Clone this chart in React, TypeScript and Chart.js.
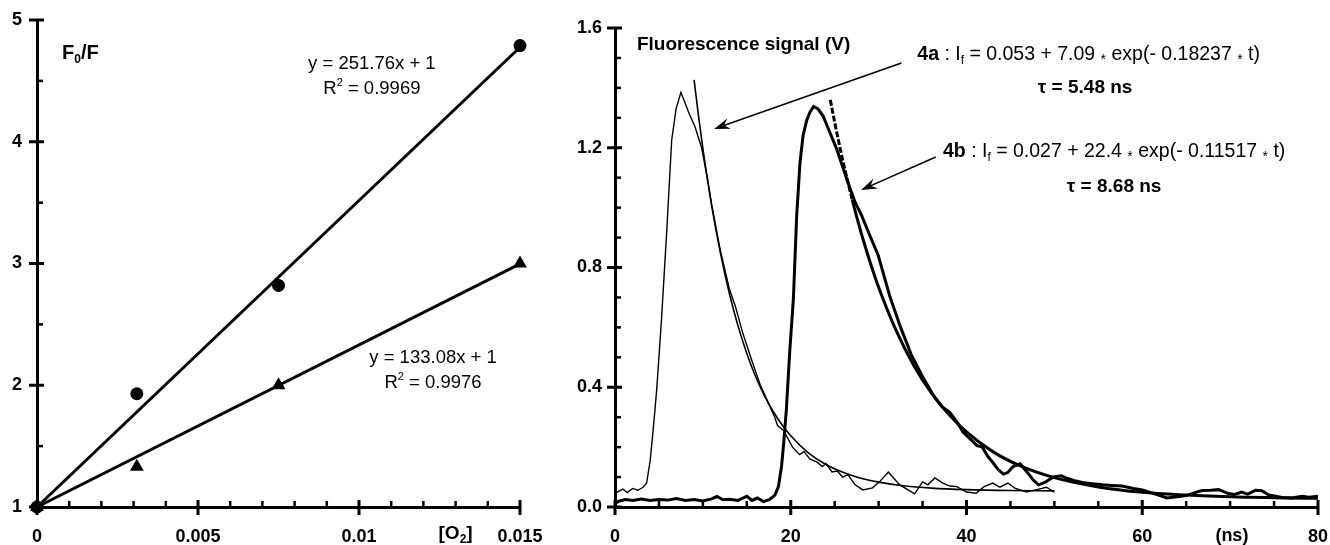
import React, { useEffect, useRef } from 'react';
import { Chart, registerables } from 'chart.js';

Chart.register(...registerables);

const FONT = 'Arial, "Liberation Sans", Helvetica, sans-serif';

// ---------- Left panel: Stern-Volmer plot ----------
const o2Conc = [0, 0.0031, 0.0075, 0.015];
const circleF0F = [1, 1.93, 2.82, 4.79];
const triangleF0F = [1, 1.33, 2.0, 3.0];
const fitX = [0, 0.015];
const fitCircleY = [1, 4.7764];
const fitTriangleY = [1, 2.9962];

const leftXTicks = [0, 0.005, 0.01, 0.015];
const leftXTickLabels = ['0', '0.005', '0.01', '0.015'];
const leftXMinor = [0.001, 0.002, 0.003, 0.004, 0.006, 0.007, 0.008, 0.009, 0.011, 0.012, 0.013, 0.014];
const leftYTicks = [1, 2, 3, 4, 5];
const leftYTickLabels = ['1', '2', '3', '4', '5'];
const leftYMinor = [1.5, 2.5, 3.5, 4.5];

// ---------- Right panel: fluorescence decays ----------
const signal4a: [number, number][] = [
  [0, 0.045], [0.4, 0.052], [0.9, 0.06], [1.4, 0.048], [2.0, 0.062], [2.6, 0.056], [3.2, 0.066],
  [3.6, 0.08], [4.0, 0.154], [4.35, 0.26], [4.75, 0.393], [5.3, 0.63], [5.9, 0.928], [6.45, 1.225],
  [6.95, 1.33], [7.5, 1.385], [7.9, 1.355], [8.35, 1.32], [9.1, 1.27], [9.86, 1.2], [10.5, 1.1],
  [11, 1.01], [12, 0.855], [13, 0.73], [13.7, 0.67], [14.5, 0.585], [15.5, 0.495], [16.5, 0.41],
  [17.5, 0.345], [18.2, 0.298], [18.5, 0.272], [19.2, 0.255], [20.2, 0.2], [21, 0.175], [21.5, 0.185],
  [22.2, 0.16], [23, 0.15], [23.6, 0.135], [24, 0.145], [24.7, 0.117], [25.3, 0.12], [25.9, 0.1],
  [26.5, 0.108], [27.3, 0.075], [28.2, 0.057], [29.3, 0.064], [30.1, 0.084], [31.1, 0.117],
  [32.4, 0.074], [33.3, 0.058], [34.1, 0.044], [35, 0.084], [35.6, 0.074], [36.4, 0.097],
  [37.3, 0.08], [38.1, 0.07], [38.9, 0.068], [40, 0.05], [41.1, 0.046], [42, 0.068], [43, 0.08],
  [43.8, 0.066], [44.7, 0.08], [45.5, 0.063], [46.8, 0.05], [48, 0.058], [49.1, 0.066], [50, 0.05],
];

const fit4a: [number, number][] = [
  [9, 1.427], [9.5, 1.307], [10, 1.197], [11, 1.007], [12, 0.848], [13, 0.715], [14, 0.605],
  [15, 0.513], [16, 0.436], [17, 0.372], [18, 0.319], [19, 0.275], [20, 0.238], [22, 0.181],
  [24, 0.142], [26, 0.115], [28, 0.096], [30, 0.083], [33, 0.07], [36, 0.063], [40, 0.058],
  [45, 0.055], [50, 0.054],
];

const signal4b: [number, number][] = [
  [0, 0.012], [0.5, 0.02], [1.2, 0.025], [2, 0.022], [3, 0.027], [4, 0.022], [5, 0.025], [6, 0.023],
  [7, 0.028], [8, 0.022], [9, 0.025], [10, 0.02], [11, 0.027], [11.6, 0.035], [12.3, 0.024],
  [13, 0.026], [14, 0.022], [15, 0.036], [15.6, 0.022], [16.2, 0.03], [16.9, 0.018], [17.6, 0.025],
  [18.2, 0.04], [18.6, 0.068], [18.95, 0.135], [19.2, 0.214], [19.5, 0.325], [19.9, 0.527],
  [20.3, 0.695], [20.67, 0.97], [21.05, 1.15], [21.4, 1.24], [21.8, 1.29], [22.2, 1.32],
  [22.6, 1.338], [23.1, 1.33], [23.7, 1.305], [24.1, 1.276], [25.2, 1.198], [26.35, 1.097],
  [27.3, 1.02], [28.06, 0.974], [29.0, 0.907], [29.96, 0.84], [31.25, 0.706], [32.5, 0.6],
  [33.7, 0.51], [35, 0.435], [36.3, 0.37], [37.2, 0.335], [38.1, 0.316], [39, 0.28], [39.6, 0.25],
  [40.5, 0.225], [41.2, 0.205], [41.8, 0.2], [42.4, 0.17], [43.04, 0.147], [43.6, 0.125],
  [44.2, 0.11], [44.7, 0.115], [45.3, 0.135], [46.1, 0.144], [46.5, 0.13], [47.0, 0.113],
  [47.6, 0.09], [48.2, 0.074], [48.9, 0.082], [49.9, 0.1], [50.8, 0.104], [51.5, 0.095],
  [52.3, 0.088], [53.2, 0.082], [54.3, 0.078], [55.5, 0.074], [56.5, 0.072], [57.7, 0.07],
  [59, 0.062], [60, 0.057], [61, 0.048], [61.6, 0.042], [62.8, 0.03], [64, 0.034], [65, 0.038],
  [66, 0.048], [66.8, 0.055], [67.8, 0.056], [68.7, 0.058], [69.8, 0.045], [70.5, 0.042],
  [71.3, 0.05], [72, 0.043], [72.9, 0.056], [73.6, 0.054], [74.4, 0.04], [75.2, 0.036],
  [75.9, 0.032], [77, 0.03], [78.2, 0.036], [79, 0.033], [80, 0.036],
];

const fit4b: [number, number][] = [
  [24.5, 1.36], [25, 1.285], [26, 1.148], [27, 1.026], [28, 0.917], [29, 0.821], [30, 0.734],
  [32, 0.589], [34, 0.473], [36, 0.381], [38, 0.309], [40, 0.251], [43, 0.185], [46, 0.139],
  [50, 0.098], [55, 0.067], [60, 0.049], [65, 0.04], [70, 0.034], [75, 0.031], [80, 0.029],
];

const rightXTicks = [0, 20, 40, 60, 80];
const rightXTickLabels = ['0', '20', '40', '60', '80'];
const rightXMinor = [5, 10, 15, 25, 30, 35, 45, 50, 55, 65, 70, 75];
const rightYTicks = [0, 0.4, 0.8, 1.2, 1.6];
const rightYTickLabels = ['0.0', '0.4', '0.8', '1.2', '1.6'];
const rightYMinor = [0.1, 0.2, 0.3, 0.5, 0.6, 0.7, 0.9, 1.0, 1.1, 1.3, 1.4, 1.5];

// ---------- drawing helpers ----------
type Part = { t: string; bold?: boolean; sub?: boolean; sup?: boolean; small?: boolean; dy?: number };

function drawRich(ctx: CanvasRenderingContext2D, parts: Part[], x: number, y: number, size: number, align: 'left' | 'center') {
  const fontFor = (p: Part) => {
    const s = p.sub || p.sup ? Math.round(size * 0.62) : p.small ? Math.round(size * 0.7) : size;
    return `${p.bold ? 'bold ' : ''}${s}px ${FONT}`;
  };
  let w = 0;
  parts.forEach((p) => {
    ctx.font = fontFor(p);
    w += ctx.measureText(p.t).width;
  });
  let cx = align === 'center' ? x - w / 2 : x;
  ctx.textAlign = 'left';
  ctx.textBaseline = 'alphabetic';
  ctx.fillStyle = '#000';
  parts.forEach((p) => {
    ctx.font = fontFor(p);
    let dy = p.dy || 0;
    if (p.sub) dy += size * 0.22;
    if (p.sup) dy -= size * 0.42;
    ctx.fillText(p.t, cx, y + dy);
    cx += ctx.measureText(p.t).width;
  });
}

function drawTicks(chart: any, xMajor: number[], xMinor: number[], yMajor: number[], yMinor: number[]) {
  const { ctx, chartArea, scales } = chart;
  const { x, y } = scales;
  const bottom = chartArea.bottom;
  const left = chartArea.left;
  ctx.save();
  ctx.strokeStyle = '#000';
  ctx.lineCap = 'butt';
  const seg = (x1: number, y1: number, x2: number, y2: number) => {
    ctx.beginPath();
    ctx.moveTo(x1, y1);
    ctx.lineTo(x2, y2);
    ctx.stroke();
  };
  ctx.lineWidth = 3;
  xMajor.forEach((v) => {
    const p = x.getPixelForValue(v);
    seg(p, bottom - 7, p, bottom + 8);
  });
  yMajor.forEach((v) => {
    const p = y.getPixelForValue(v);
    seg(left - 8, p, left + 7, p);
  });
  ctx.lineWidth = 2.5;
  xMinor.forEach((v) => {
    const p = x.getPixelForValue(v);
    seg(p, bottom - 6, p, bottom);
  });
  yMinor.forEach((v) => {
    const p = y.getPixelForValue(v);
    seg(left, p, left + 6, p);
  });
  ctx.restore();
}

function drawArrow(ctx: CanvasRenderingContext2D, x1: number, y1: number, x2: number, y2: number) {
  const ang = Math.atan2(y2 - y1, x2 - x1);
  const L = 16;
  const W = 5.5;
  const c = Math.cos(ang);
  const s = Math.sin(ang);
  ctx.save();
  ctx.strokeStyle = '#000';
  ctx.fillStyle = '#000';
  ctx.lineWidth = 1.5;
  ctx.beginPath();
  ctx.moveTo(x1, y1);
  ctx.lineTo(x2 - L * 0.6 * c, y2 - L * 0.6 * s);
  ctx.stroke();
  ctx.beginPath();
  ctx.moveTo(x2, y2);
  ctx.lineTo(x2 - L * c + W * s, y2 - L * s - W * c);
  ctx.lineTo(x2 - L * 0.65 * c, y2 - L * 0.65 * s);
  ctx.lineTo(x2 - L * c - W * s, y2 - L * s + W * c);
  ctx.closePath();
  ctx.fill();
  ctx.restore();
}

const tickFont = { family: FONT, size: 18, weight: 'bold' as const };

function lookupLabel(values: number[], labels: string[]) {
  return (v: number) => {
    const i = values.findIndex((t) => Math.abs(t - v) < 1e-9);
    return i >= 0 ? labels[i] : '';
  };
}

function fixHeight(h: number) {
  return (s: any) => {
    s.height = h;
    s.paddingLeft = 0;
    s.paddingRight = 0;
  };
}

function fixWidth(w: number) {
  return (s: any) => {
    s.width = w;
    s.paddingTop = 0;
    s.paddingBottom = 0;
  };
}

// ---------- Left chart config ----------
function leftConfig(): any {
  const overlay = {
    id: 'leftOverlay',
    afterDraw(chart: any) {
      const { ctx } = chart;
      const { x, y } = chart.scales;
      drawTicks(chart, leftXTicks, leftXMinor, leftYTicks, leftYMinor);
      ctx.save();
      drawRich(ctx, [{ t: 'F', bold: true }, { t: '0', bold: true, sub: true }, { t: '/F', bold: true }],
        x.getPixelForValue(0.00078), y.getPixelForValue(4.68), 20, 'left');
      drawRich(ctx, [{ t: 'y = 251.76x + 1' }], x.getPixelForValue(0.0104), y.getPixelForValue(4.6), 18.5, 'center');
      drawRich(ctx, [{ t: 'R' }, { t: '2', sup: true }, { t: ' = 0.9969' }], x.getPixelForValue(0.0104), y.getPixelForValue(4.39), 18.5, 'center');
      drawRich(ctx, [{ t: 'y = 133.08x + 1' }], x.getPixelForValue(0.0123), y.getPixelForValue(2.18), 18.5, 'center');
      drawRich(ctx, [{ t: 'R' }, { t: '2', sup: true }, { t: ' = 0.9976' }], x.getPixelForValue(0.0123), y.getPixelForValue(1.98), 18.5, 'center');
      drawRich(ctx, [{ t: '[O', bold: true }, { t: '2', bold: true, sub: true }, { t: ']', bold: true }],
        x.getPixelForValue(0.013), y.getPixelForValue(0.74), 19, 'center');
      ctx.restore();
    },
  };
  return {
    type: 'scatter',
    data: {
      datasets: [
        {
          label: 'circles',
          data: o2Conc.map((v, i) => ({ x: v, y: circleF0F[i] })),
          pointStyle: 'circle',
          pointRadius: 6.5,
          backgroundColor: '#000',
          borderColor: '#000',
          borderWidth: 0,
          clip: false,
        },
        {
          label: 'triangles',
          data: o2Conc.map((v, i) => ({ x: v, y: triangleF0F[i] })),
          pointStyle: 'triangle',
          pointRadius: 8,
          backgroundColor: '#000',
          borderColor: '#000',
          borderWidth: 0,
          clip: false,
        },
        {
          label: 'fit circles',
          data: fitX.map((v, i) => ({ x: v, y: fitCircleY[i] })),
          showLine: true,
          pointRadius: 0,
          borderColor: '#000',
          borderWidth: 3,
          clip: false,
        },
        {
          label: 'fit triangles',
          data: fitX.map((v, i) => ({ x: v, y: fitTriangleY[i] })),
          showLine: true,
          pointRadius: 0,
          borderColor: '#000',
          borderWidth: 3,
          clip: false,
        },
      ],
    },
    options: {
      animation: false,
      responsive: false,
      events: [],
      layout: { padding: { top: 20, right: 45, left: 0, bottom: 0 } },
      plugins: { legend: { display: false }, tooltip: { enabled: false } },
      scales: {
        x: {
          type: 'linear',
          min: 0,
          max: 0.015,
          afterBuildTicks: (s: any) => { s.ticks = leftXTicks.map((v) => ({ value: v })); },
          afterFit: fixHeight(38),
          ticks: { callback: lookupLabel(leftXTicks, leftXTickLabels), font: tickFont, color: '#000', padding: 19, maxRotation: 0, autoSkip: false },
          grid: { display: false, drawTicks: false },
          border: { display: true, color: '#000', width: 3 },
        },
        y: {
          type: 'linear',
          min: 1,
          max: 5,
          afterBuildTicks: (s: any) => { s.ticks = leftYTicks.map((v) => ({ value: v })); },
          afterFit: fixWidth(37),
          ticks: { callback: lookupLabel(leftYTicks, leftYTickLabels), font: tickFont, color: '#000', padding: 15, autoSkip: false },
          grid: { display: false, drawTicks: false },
          border: { display: true, color: '#000', width: 3 },
        },
      },
    },
    plugins: [overlay],
  };
}

// ---------- Right chart config ----------
function rightConfig(): any {
  const overlay = {
    id: 'rightOverlay',
    afterDraw(chart: any) {
      const { ctx } = chart;
      const { x, y } = chart.scales;
      drawTicks(chart, rightXTicks, rightXMinor, rightYTicks, rightYMinor);
      ctx.save();
      drawRich(ctx, [{ t: 'Fluorescence signal (V)', bold: true }], x.getPixelForValue(2.5), y.getPixelForValue(1.528), 19, 'left');
      const star: Part = { t: '*', small: true, dy: 4 };
      drawRich(ctx, [
        { t: '4a', bold: true }, { t: ' : I' }, { t: 'f', sub: true },
        { t: ' = 0.053 + 7.09 ' }, star, { t: ' exp(- 0.18237 ' }, star, { t: ' t)' },
      ], x.getPixelForValue(53.9), y.getPixelForValue(1.493), 19.5, 'center');
      drawRich(ctx, [{ t: 'τ = 5.48 ns', bold: true }], x.getPixelForValue(53.5), y.getPixelForValue(1.383), 19, 'center');
      drawRich(ctx, [
        { t: '4b', bold: true }, { t: ' : I' }, { t: 'f', sub: true },
        { t: ' = 0.027 + 22.4 ' }, star, { t: ' exp(- 0.11517 ' }, star, { t: ' t)' },
      ], x.getPixelForValue(56.8), y.getPixelForValue(1.169), 19.5, 'center');
      drawRich(ctx, [{ t: 'τ = 8.68 ns', bold: true }], x.getPixelForValue(56.8), y.getPixelForValue(1.052), 19, 'center');
      drawArrow(ctx, x.getPixelForValue(32.6), y.getPixelForValue(1.483), x.getPixelForValue(11.27), y.getPixelForValue(1.263));
      drawArrow(ctx, x.getPixelForValue(36.5), y.getPixelForValue(1.169), x.getPixelForValue(28.0), y.getPixelForValue(1.059));
      drawRich(ctx, [{ t: '(ns)', bold: true }], x.getPixelForValue(70.2), y.getPixelForValue(-0.112), 18, 'center');
      ctx.restore();
    },
  };
  const toXY = (arr: [number, number][]) => arr.map(([t, v]) => ({ x: t, y: v }));
  return {
    type: 'scatter',
    data: {
      datasets: [
        {
          label: '4a signal',
          data: toXY(signal4a),
          showLine: true,
          pointRadius: 0,
          borderColor: '#000',
          borderWidth: 1.4,
          tension: 0,
        },
        {
          label: '4a fit',
          data: toXY(fit4a),
          showLine: true,
          pointRadius: 0,
          borderColor: '#000',
          borderWidth: 1.6,
          cubicInterpolationMode: 'monotone',
        },
        {
          label: '4b signal',
          data: toXY(signal4b),
          showLine: true,
          pointRadius: 0,
          borderColor: '#000',
          borderWidth: 3,
          tension: 0,
        },
        {
          label: '4b fit',
          data: toXY(fit4b),
          showLine: true,
          pointRadius: 0,
          borderColor: '#000',
          borderWidth: 3,
          cubicInterpolationMode: 'monotone',
          segment: {
            borderDash: (c: any) => (c.p0.parsed.x < 26.5 ? [6, 2] : undefined),
          },
        },
      ],
    },
    options: {
      animation: false,
      responsive: false,
      events: [],
      layout: { padding: { top: 28, right: 12, left: 0, bottom: 0 } },
      plugins: { legend: { display: false }, tooltip: { enabled: false } },
      scales: {
        x: {
          type: 'linear',
          min: 0,
          max: 80,
          afterBuildTicks: (s: any) => { s.ticks = rightXTicks.map((v) => ({ value: v })); },
          afterFit: fixHeight(38),
          ticks: { callback: lookupLabel(rightXTicks, rightXTickLabels), font: tickFont, color: '#000', padding: 19, maxRotation: 0, autoSkip: false },
          grid: { display: false, drawTicks: false },
          border: { display: true, color: '#000', width: 3 },
        },
        y: {
          type: 'linear',
          min: 0,
          max: 1.6,
          afterBuildTicks: (s: any) => { s.ticks = rightYTicks.map((v) => ({ value: v })); },
          afterFit: fixWidth(50),
          ticks: { callback: lookupLabel(rightYTicks, rightYTickLabels), font: tickFont, color: '#000', padding: 13, autoSkip: false },
          grid: { display: false, drawTicks: false },
          border: { display: true, color: '#000', width: 3 },
        },
      },
    },
    plugins: [overlay],
  };
}

export default function App() {
  const leftRef = useRef<HTMLCanvasElement>(null);
  const rightRef = useRef<HTMLCanvasElement>(null);
  useEffect(() => {
    document.body.style.margin = '0';
    const c1 = new Chart(leftRef.current as HTMLCanvasElement, leftConfig());
    const c2 = new Chart(rightRef.current as HTMLCanvasElement, rightConfig());
    return () => {
      c1.destroy();
      c2.destroy();
    };
  }, []);
  return (
    <div style={{ position: 'relative', width: 1330, height: 545, background: '#fff', overflow: 'hidden' }}>
      <canvas ref={leftRef} width={565} height={545} style={{ position: 'absolute', left: 0, top: 0, width: 565, height: 545 }} />
      <canvas ref={rightRef} width={765} height={545} style={{ position: 'absolute', left: 565, top: 0, width: 765, height: 545 }} />
    </div>
  );
}
